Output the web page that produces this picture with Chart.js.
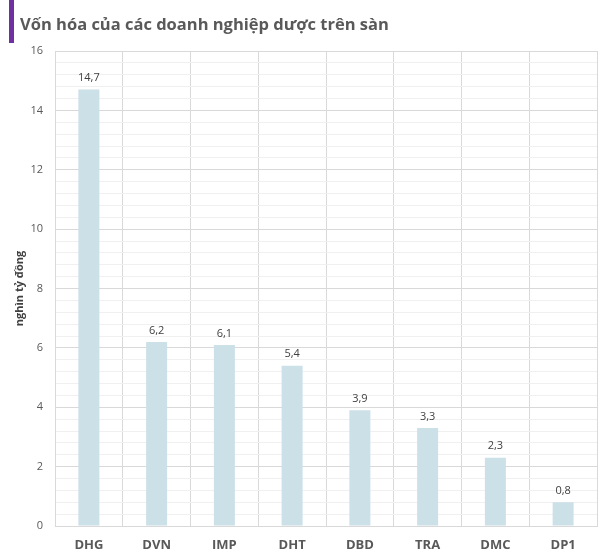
<!DOCTYPE html>
<html>
<head>
<meta charset="utf-8">
<script src="https://cdn.jsdelivr.net/npm/chart.js@4/dist/chart.umd.min.js"></script>
<style>
  html, body { margin: 0; padding: 0; background: #fff; }
  #wrap { position: relative; width: 611px; height: 559px; }
</style>
</head>
<body>
<div id="wrap"><canvas id="myChart" width="611" height="559"></canvas></div>
<script>
var tieuDe = "Vốn hóa của các doanh nghiệp dược trên sàn";
var donVi = "nghìn tỷ đồng";
var maCK = ["DHG", "DVN", "IMP", "DHT", "DBD", "TRA", "DMC", "DP1"];
var vonHoa = [14.7, 6.2, 6.1, 5.4, 3.9, 3.3, 2.3, 0.8];

var FONT = "'Open Sans', 'Noto Sans', sans-serif";

function laMoc(v) {
    return Math.abs(v / 2 - Math.round(v / 2)) < 1e-6;
}

// thanh tím + tiêu đề
var tieuDePlugin = {
    id: 'tieuDePlugin',
    beforeDraw: function(chart) {
        var c = chart.ctx;
        c.save();
        c.fillStyle = '#7030a0';
        c.fillRect(9, 0, 5, 43);
        c.font = "bold 16.5px " + FONT;
        c.fillStyle = '#595959';
        c.textAlign = 'left';
        c.textBaseline = 'alphabetic';
        c.fillText(tieuDe, 20, 30);
        c.restore();
    }
};

// số liệu trên đầu cột
var nhanSo = {
    id: 'nhanSo',
    afterDatasetsDraw: function(chart) {
        var c = chart.ctx;
        var meta = chart.getDatasetMeta(0);
        c.save();
        c.font = "11px " + FONT;
        c.fillStyle = '#404040';
        c.textAlign = 'center';
        c.textBaseline = 'bottom';
        meta.data.forEach(function(bar, i) {
            c.fillText(vonHoa[i].toFixed(1).replace('.', ','), bar.x, bar.y - 6);
        });
        c.restore();
    }
};

var ctx = document.getElementById("myChart").getContext('2d');
var myChart = new Chart(ctx, {
    type: 'bar',
    data: {
        labels: maCK,
        datasets: [{
            data: vonHoa,
            backgroundColor: '#cce0e8',
            borderWidth: 0,
            barPercentage: 0.31,
            categoryPercentage: 1
        }]
    },
    options: {
        responsive: false,
        animation: false,
        layout: { padding: { left: 13, right: 14, top: 51, bottom: 0 } },
        plugins: {
            legend: { display: false },
            tooltip: { enabled: false },
            title: { display: false }
        },
        scales: {
            x: {
                afterFit: function(s) { s.height = 33; },
                grid: { color: '#d9d9d9', drawTicks: false, offset: true },
                border: { color: '#d9d9d9' },
                ticks: {
                    color: '#595959',
                    font: { family: FONT, size: 13, weight: 'bold' },
                    padding: 11
                }
            },
            y: {
                min: 0,
                max: 16,
                afterFit: function(s) { s.width = 42; },
                grid: {
                    drawTicks: false,
                    color: function(c) { return laMoc(c.tick.value) ? '#d9d9d9' : '#f0f0f0'; }
                },
                border: { color: '#d9d9d9' },
                ticks: {
                    stepSize: 0.4,
                    autoSkip: false,
                    color: '#595959',
                    font: { family: FONT, size: 11 },
                    padding: 12,
                    callback: function(v) { return laMoc(v) ? Math.round(v) : ''; }
                },
                title: {
                    display: true,
                    text: donVi,
                    color: '#404040',
                    font: { family: FONT, size: 11, weight: 'bold' },
                    padding: { top: 0, bottom: 3 }
                }
            }
        }
    },
    plugins: [tieuDePlugin, nhanSo]
});
</script>
</body>
</html>
